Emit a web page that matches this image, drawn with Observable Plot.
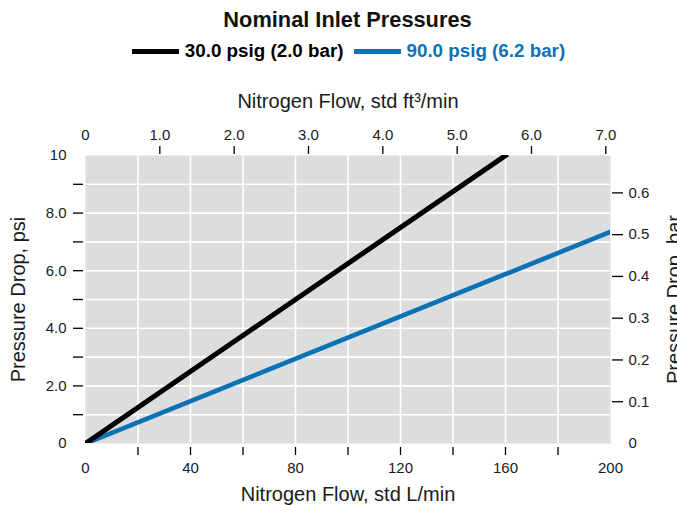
<!DOCTYPE html>
<html><head><meta charset="utf-8">
<script src="https://cdn.jsdelivr.net/npm/d3@7"></script>
<script src="https://cdn.jsdelivr.net/npm/@observablehq/plot@0.6"></script>
<style>
body{margin:0;background:#fff;font-family:"Liberation Sans",Arial,sans-serif;}
#wrap{position:relative;width:677px;height:505px;overflow:hidden;background:#fff;}
#title{position:absolute;left:0;width:695px;top:9px;text-align:center;font-weight:bold;font-size:21.8px;line-height:21px;color:#111;white-space:nowrap;}
#legend{position:absolute;left:0;width:707px;top:42px;display:flex;justify-content:center;align-items:center;font-weight:bold;font-size:18.8px;line-height:18px;white-space:nowrap;}
.sw{display:inline-block;width:47px;height:5px;margin-right:6px;}
.item{display:flex;align-items:center;margin-right:10px;}
#chart{position:absolute;left:0;top:70px;}
</style></head>
<body><div id="wrap"><div id="title"></div><div id="legend"></div><div id="chart"></div></div>
<script>
const chartTitle = "Nominal Inlet Pressures";
const seriesNames = ["30.0 psig (2.0 bar)", "90.0 psig (6.2 bar)"];
const seriesColors = ["#000000", "#0b72b5"];
const flow30 = [0, 160];
const drop30 = [0, 10];
const flow90 = [0, 200];
const drop90 = [0, 7.35];
const xMinorTicks = [20, 40, 60, 80, 100, 120, 140, 160, 180];
const xTickLabels = [0, 40, 80, 120, 160, 200];
const yMinorTicks = [1, 2, 3, 4, 5, 6, 7, 8, 9];
const yTickLabels = [0, 2, 4, 6, 8, 10];
const cfmTicks = [1, 2, 3, 4, 5, 6, 7];
const cfmTickLabels = [0, 1, 2, 3, 4, 5, 6, 7];
const barTicks = [0.1, 0.2, 0.3, 0.4, 0.5, 0.6];
const barTickLabels = [0, 0.1, 0.2, 0.3, 0.4, 0.5, 0.6];
const LPM_PER_CFM = 28.3168;
const PSI_PER_BAR = 14.5038;

document.getElementById("title").textContent = chartTitle;
const leg = document.getElementById("legend");
seriesNames.forEach((n, i) => {
  const it = document.createElement("span"); it.className = "item";
  const sw = document.createElement("span"); sw.className = "sw"; sw.style.background = seriesColors[i];
  const tx = document.createElement("span"); tx.textContent = n; tx.style.color = seriesColors[i];
  it.appendChild(sw); it.appendChild(tx); leg.appendChild(it);
});

const s30 = flow30.map((f, i) => ({flow: f, drop: drop30[i]}));
const s90 = flow90.map((f, i) => ({flow: f, drop: drop90[i]}));

const txt = "#1a1a1a";
const tickFS = 15, labFS = 20;
const fmtPsi = d => d === 0 ? "0" : d === 10 ? "10" : d.toFixed(1);
const fmtCfm = d => { const v = Math.round(d / LPM_PER_CFM * 10) / 10; return v === 0 ? "0" : v.toFixed(1); };
const fmtBar = d => { const v = Math.round(d / PSI_PER_BAR * 10) / 10; return v === 0 ? "0" : String(v); };

const plot = Plot.plot({
  width: 677, height: 435,
  marginTop: 85, marginBottom: 62, marginLeft: 85, marginRight: 67,
  style: {fontFamily: '"Liberation Sans", Arial, sans-serif', color: txt, background: "transparent"},
  x: {domain: [0, 200]},
  y: {domain: [0, 10]},
  marks: [
    Plot.frame({fill: "#dcdddf", stroke: "none"}),
    Plot.gridX({ticks: xMinorTicks, stroke: "#fff", strokeOpacity: 1, strokeWidth: 1.6}),
    Plot.gridY({ticks: yMinorTicks, stroke: "#fff", strokeOpacity: 1, strokeWidth: 1.6}),
    Plot.line(s90, {x: "flow", y: "drop", stroke: seriesColors[1], strokeWidth: 4.6, clip: true, strokeLinecap: "square"}),
    Plot.line(s30, {x: "flow", y: "drop", stroke: seriesColors[0], strokeWidth: 5, clip: true, strokeLinecap: "square"}),
    // bottom axis
    Plot.axisX({anchor: "bottom", ticks: xMinorTicks, tickSize: 8, dy: 4, tickFormat: () => "", label: null, stroke: "#000", strokeWidth: 1.3}),
    Plot.axisX({anchor: "bottom", ticks: xTickLabels, tickSize: 0, tickPadding: 19, tickFormat: d => String(d), label: null, fontSize: tickFS, fill: txt}),
    Plot.axisX({anchor: "bottom", ticks: [], label: "Nitrogen Flow, std L/min", labelAnchor: "center", labelOffset: 57, labelArrow: "none", fontSize: labFS, fill: txt}),
    // top axis
    Plot.axisX({anchor: "top", ticks: cfmTicks.map(c => c * LPM_PER_CFM), tickSize: 8, dy: -2, tickFormat: () => "", label: null, stroke: "#000", strokeWidth: 1.3}),
    Plot.axisX({anchor: "top", ticks: cfmTickLabels.map(c => c * LPM_PER_CFM), tickSize: 0, tickPadding: 16, tickFormat: fmtCfm, label: null, fontSize: tickFS, fill: txt}),
    Plot.axisX({anchor: "top", ticks: [], label: "Nitrogen Flow, std ft³/min", labelAnchor: "center", labelOffset: 62, labelArrow: "none", fontSize: labFS, fill: txt}),
    // left axis
    Plot.axisY({anchor: "left", ticks: yMinorTicks, tickSize: 10, dx: -2, tickFormat: () => "", label: null, stroke: "#000", strokeWidth: 1.3}),
    Plot.axisY({anchor: "left", ticks: yTickLabels, tickSize: 0, tickPadding: 19, tickFormat: fmtPsi, label: null, fontSize: tickFS, fill: txt}),
    Plot.axisY({anchor: "left", ticks: [], label: "Pressure Drop, psi", labelAnchor: "center", labelOffset: 75, labelArrow: "none", fontSize: labFS, fill: txt}),
    // right axis
    Plot.axisY({anchor: "right", ticks: barTicks.map(b => b * PSI_PER_BAR), tickSize: 11, dx: 1, tickFormat: () => "", label: null, stroke: "#000", strokeWidth: 1.3}),
    Plot.axisY({anchor: "right", ticks: barTickLabels.map(b => b * PSI_PER_BAR), tickSize: 0, tickPadding: 18, tickFormat: fmtBar, label: null, fontSize: tickFS, fill: txt}),
    Plot.axisY({anchor: "right", ticks: [], label: "Pressure Drop, bar", labelAnchor: "center", labelOffset: 70, labelArrow: "none", fontSize: labFS, fill: txt})
  ]
});
document.getElementById("chart").appendChild(plot);
</script>
</body></html>
